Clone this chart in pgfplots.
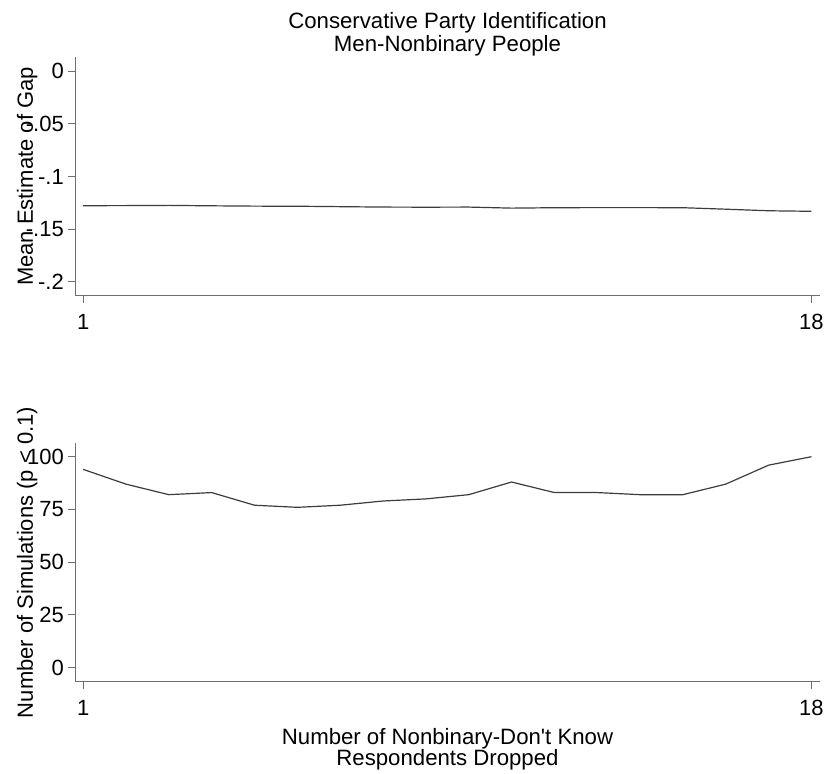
\documentclass[border=0pt]{standalone}
\usepackage{pgfplots}
\pgfplotsset{compat=1.18}
\usepackage{fontspec}
\setmainfont{Liberation Sans}
\definecolor{axisgray}{HTML}{6E6E6E}
\definecolor{linegray}{HTML}{3C3C3C}
\pgfplotsset{
  stata/.style={
    scale only axis,
    width=745pt, height=239pt,
    axis lines*=left,
    axis line style={axisgray, line width=1pt, -},
    tick style={axisgray, line width=1pt},
    tick align=outside,
    major tick length=7pt,
    xmin=0.81, xmax=18.2,
    xtick={1,18},
    ticklabel style={font=\fontsize{22}{23}\selectfont, text=black},
    yticklabel style={inner sep=0pt, xshift=-4pt},
    xticklabel style={inner sep=0pt, yshift=-11pt},
    /pgf/number format/assume math mode=true,
    clip=false,
  },
  gapline/.style={color=linegray, line width=1.2pt, mark=none, solid},
}
\begin{document}
\begin{tikzpicture}
\path[use as bounding box] (0,0) rectangle (829pt,773pt);
\begin{axis}[stata,
  at={(75pt,477pt)}, anchor=south west,
  ymin=-0.2133, ymax=0.0133,
  ytick={-0.2,-0.15,-0.1,-0.05,0},
  yticklabels={-.2,-.15,-.1,-.05,0},
  ylabel={Mean Estimate of Gap},
  ylabel style={at={(axis description cs:-0.0564,0.5)}, anchor=base, rotate=0, font=\fontsize{22}{23}\selectfont, inner sep=0pt},
]
\addplot[gapline] coordinates {
(1,-0.1277) (2,-0.1276) (3,-0.1274) (4,-0.1278) (5,-0.1281) (6,-0.1282)
(7,-0.1286) (8,-0.1290) (9,-0.1291) (10,-0.1290) (11,-0.1300) (12,-0.1296)
(13,-0.1295) (14,-0.1295) (15,-0.1296) (16,-0.1310) (17,-0.1325) (18,-0.1330)
};
\end{axis}
\begin{axis}[stata,
  at={(75pt,91pt)}, anchor=south west,
  ymin=-6.8, ymax=106.5,
  ytick={0,25,50,75,100},
  ylabel={Number of Simulations (p < 0.1)},
  ylabel style={at={(axis description cs:-0.0564,0.5)}, anchor=base, rotate=0, font=\fontsize{22}{23}\selectfont, inner sep=0pt},
]
\addplot[gapline] coordinates {
(1,94) (2,87) (3,82) (4,83) (5,77) (6,76) (7,77) (8,79) (9,80)
(10,82) (11,88) (12,83) (13,83) (14,82) (15,82) (16,87) (17,96) (18,100)
};
\end{axis}
\node[anchor=north, inner sep=0pt, align=center, font=\fontsize{22.2}{23}\selectfont] at (447.5pt,761pt)
  {Conservative Party Identification\\Men-Nonbinary People};
\node[anchor=north, inner sep=0pt, align=center, font=\fontsize{22.2}{21}\selectfont] at (447.5pt,45pt)
  {Number of Nonbinary-Don\textquotesingle t Know\\Respondents Dropped};
\end{tikzpicture}
\end{document}
